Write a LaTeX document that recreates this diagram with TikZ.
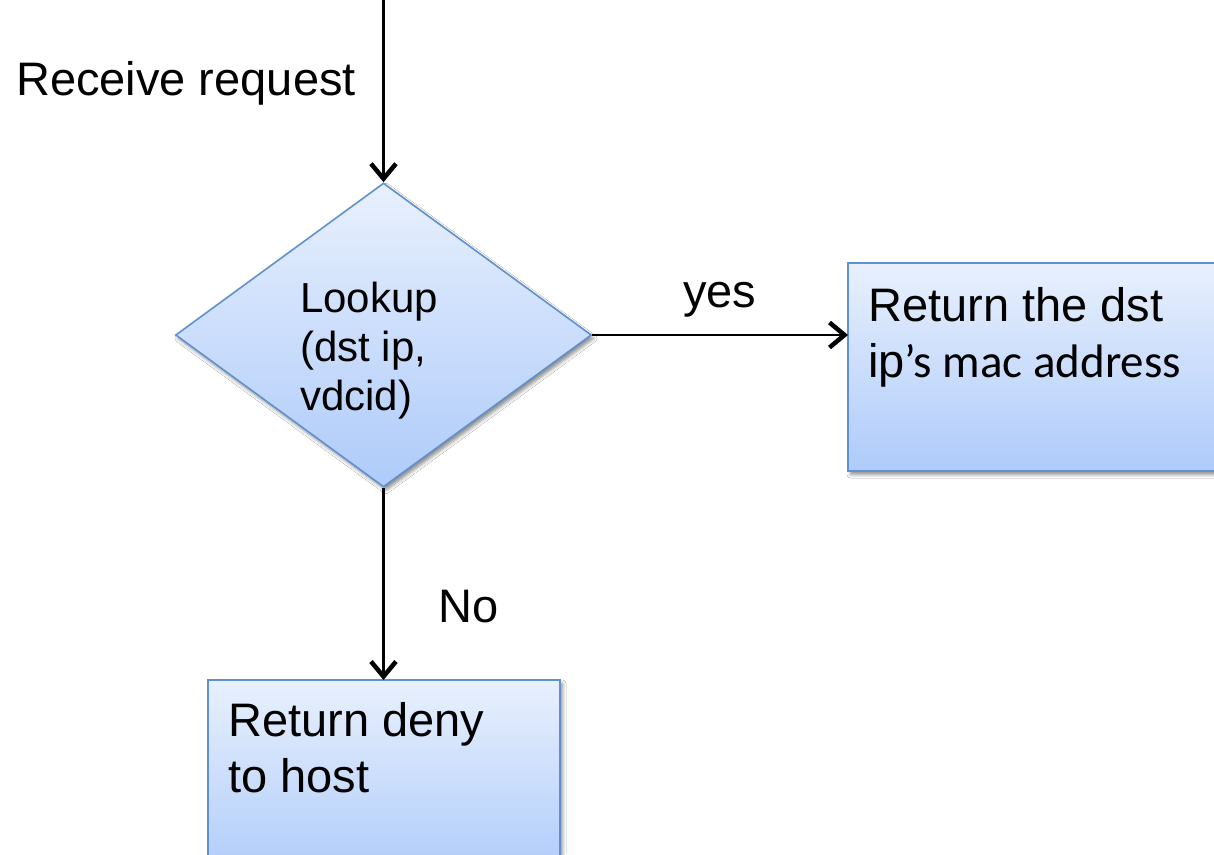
\documentclass[tikz,border=0pt]{standalone}
\usepackage{fontspec}
\setmainfont{Liberation Sans}
\newfontfamily\calibrifont{Carlito}
\usetikzlibrary{shapes.geometric,arrows.meta,shadows.blur}
\definecolor{fillTop}{RGB}{232,240,253}
\definecolor{fillBot}{RGB}{174,203,250}
\definecolor{edgeBlue}{RGB}{96,145,204}
\tikzset{
  flowshape/.style={draw=edgeBlue, line width=1.6pt, top color=fillTop, bottom color=fillBot,
    blur shadow={shadow xshift=2.5pt, shadow yshift=-3.5pt, shadow blur radius=3.5pt, shadow opacity=45}},
  flowarrow/.style={line width=2.2pt, -{Straight Barb[length=15pt,width=25pt,line width=4.5pt]}},
  bigtext/.style={inner sep=0pt, align=left, font=\fontsize{47}{55.5}\selectfont},
  smalltext/.style={inner sep=0pt, align=left, font=\fontsize{42}{49}\selectfont}
}
\begin{document}
\begin{tikzpicture}[x=1pt, y=-1pt]
  \useasboundingbox (0,0) rectangle (1214,854);
  \clip (0,0) rectangle (1214,854);
  \fill[white] (0,0) rectangle (1214,854);

  % decision diamond and its text (anchored on the last line's baseline)
  \node[flowshape, diamond, minimum width=416pt, minimum height=304pt, inner sep=0pt]
    (lookup) at (383.5,335) {};
  \node[smalltext, anchor=base west] (lookuptext) at (300,410) {Lookup\\(dst ip,\\vdcid)};

  % result boxes (partly running off the page)
  \path[flowshape] (848,263) rectangle (1240,471);
  \coordinate (yesbox) at (848,335);
  \path[flowshape] (208,680) rectangle (560,880);
  \coordinate (nobox) at (383.5,680);
  \node[bigtext, anchor=base west] (yestext) at (868,377)
    {Return the dst\\ip{\calibrifont’s mac address}};
  \node[bigtext, anchor=base west] (notext) at (228,792) {Return deny\\to host};

  % connectors
  \coordinate (start) at (383.5,0);
  \draw[flowarrow] (start) -- (lookup.north);
  \draw[flowarrow] (lookup.east) -- (yesbox);
  \draw[flowarrow] (lookup.south) -- (nobox);

  % labels
  \node[bigtext, anchor=base west] (recv) at (16,95) {Receive request};
  \node[bigtext, anchor=base west] (yeslabel) at (683,307) {yes};
  \node[bigtext, anchor=base west] (nolabel) at (438,622) {No};
\end{tikzpicture}
\end{document}
